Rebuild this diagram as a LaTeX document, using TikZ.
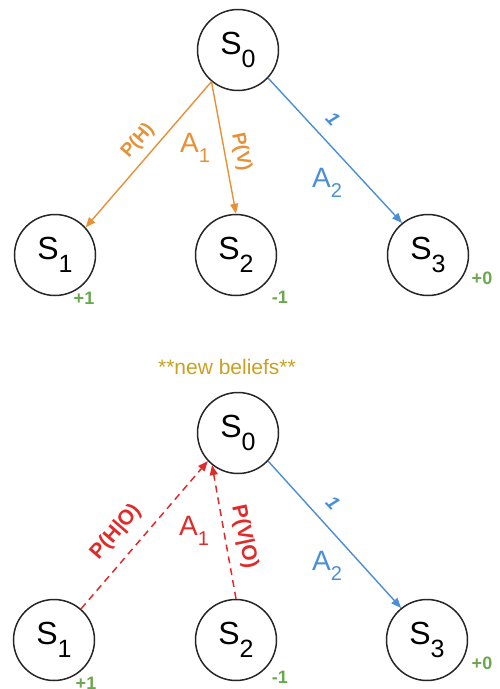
\documentclass[tikz,border=0pt]{standalone}
\usepackage{fontspec}
\setmainfont{Liberation Sans}
\usetikzlibrary{arrows.meta}
\definecolor{orng}{HTML}{E69138}
\definecolor{blu}{HTML}{4A8FD6}
\definecolor{rd}{HTML}{E02B2B}
\definecolor{grn}{HTML}{6AA84F}
\definecolor{gld}{HTML}{C9A022}
\newcommand{\stname}[1]{{\fontsize{32}{32}\selectfont S}\raisebox{-13pt}{\fontsize{25}{25}\selectfont #1}}
\newcommand{\aname}[1]{{\fontsize{28}{28}\selectfont A}\raisebox{-10pt}{\fontsize{20}{20}\selectfont #1}}
\tikzset{
  state/.style={circle, draw=black!85, line width=1.5pt, minimum size=81pt, inner sep=0pt},
  arr/.style={line width=1.4pt, -{Triangle[length=10pt,width=8pt]}},
  darr/.style={line width=1.5pt, dash pattern=on 7pt off 5pt, -{Triangle[length=10pt,width=8pt]}},
  plab/.style={font=\bfseries\fontsize{19}{19}\selectfont, inner sep=0pt},
  blab/.style={font=\bfseries\fontsize{21}{21}\selectfont, inner sep=0pt},
  onelab/.style={font=\bfseries\itshape\fontsize{19}{19}\selectfont, text=blu, inner sep=0pt, rotate=-47},
  rew/.style={font=\bfseries\fontsize{18}{18}\selectfont, text=grn, inner sep=0pt},
}
\begin{document}
\begin{tikzpicture}[x=1pt,y=-1pt]
\useasboundingbox (0,0) rectangle (499,689);
% top tree
\node[state] (t0) at (238,50) {\stname{0}};
\node[state] (t1) at (55,255) {\stname{1}};
\node[state] (t2) at (236,255) {\stname{2}};
\node[state] (t3) at (428,255) {\stname{3}};
\draw[arr, orng] (t0.230) -- (t1.42);
\draw[arr, orng] (t0.230) -- (t2.90);
\draw[arr, blu] (t0.-43) -- (t3.129);
\node[plab, text=orng, rotate=49] (tph) at (138,141) {P(H)};
\node[inner sep=0pt, text=orng] (ta1) at (195,148) {\aname{1}};
\node[plab, text=orng, rotate=-78] (tpv) at (241,152) {P(V)};
\node[onelab] (tone) at (333,119) {1};
\node[inner sep=0pt, text=blu] (ta2) at (327,183) {\aname{2}};
\node[rew] (tr1) at (84,298) {+1};
\node[rew] (tr2) at (280,297) {-1};
\node[rew] (tr3) at (482,278) {+0};
% bottom tree
\node[font=\fontsize{21}{21}\selectfont, text=gld, inner sep=0pt] (nb) at (227,367) {**new beliefs**};
\node[state] (b0) at (238,433) {\stname{0}};
\node[state] (b1) at (54,640) {\stname{1}};
\node[state] (b2) at (236,640) {\stname{2}};
\node[state] (b3) at (427,640) {\stname{3}};
\draw[darr, rd] (b1.49) -- (b0.223);
\draw[darr, rd] (b2.90) -- (b0.231);
\draw[arr, blu] (b0.-43) -- (b3.129);
\node[blab, text=rd, rotate=49] (bph) at (116,532) {P(H|O)};
\node[inner sep=0pt, text=rd] (ba1) at (194,531) {\aname{1}};
\node[blab, text=rd, rotate=-78] (bpv) at (244,537) {P(V|O)};
\node[onelab] (bone) at (333,503) {1};
\node[inner sep=0pt, text=blu] (ba2) at (327,566) {\aname{2}};
\node[rew] (br1) at (86,683) {+1};
\node[rew] (br2) at (280,677) {-1};
\node[rew] (br3) at (482,663) {+0};
\end{tikzpicture}
\end{document}
